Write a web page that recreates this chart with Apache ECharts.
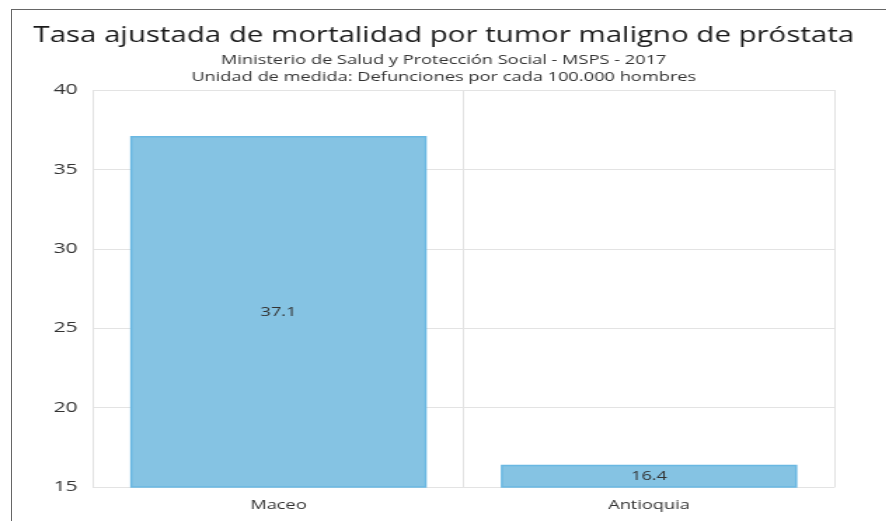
<!DOCTYPE html>
<html>
<head>
<meta charset="utf-8">
<script src="https://cdn.jsdelivr.net/npm/echarts@6/dist/echarts.min.js"></script>
<style>
  html, body { margin: 0; padding: 0; background: #fff; overflow: hidden; }
  #wrap { position: absolute; left: 0; top: 0; width: 886px; height: 521px; overflow: hidden; }
  #chart { position: absolute; left: 0; top: 0; height: 521px; transform-origin: 0 0; }
  #frame { position: absolute; left: 11px; top: 9px; width: 880px; height: 520px;
           border-top: 1px solid #666; border-left: 1px solid #666; pointer-events: none; }
</style>
</head>
<body>
<div id="wrap">
  <div id="chart"></div>
  <div id="frame"></div>
</div>
<script>
// ---- data ----
const categories = ['Maceo', 'Antioquia'];
const values = [37.1, 16.4];
const yTicks = [15, 20, 25, 30, 35, 40];
const titleText = 'Tasa ajustada de mortalidad por tumor maligno de próstata';
const subtitleText = 'Ministerio de Salud y Protección Social - MSPS - 2017\nUnidad de medida: Defunciones por cada 100.000 hombres';

// horizontal stretch of the reference picture
const SX = 1.4;
const W = 886 / SX;
const el = document.getElementById('chart');
el.style.width = W + 'px';
el.style.transform = 'scaleX(' + SX + ')';

const FONT = '"Open Sans", "Noto Sans", sans-serif';
const chart = echarts.init(el, null, { renderer: 'canvas', width: W, height: 521 });
chart.setOption({
  animation: false,
  backgroundColor: '#fff',
  title: {
    text: titleText,
    subtext: subtitleText,
    left: 'center',
    top: 21,
    itemGap: 5,
    textStyle: { fontFamily: FONT, fontSize: 21, fontWeight: 'normal', color: '#1a1a1a' },
    subtextStyle: { fontFamily: FONT, fontSize: 13, color: '#333', lineHeight: 17 }
  },
  grid: { left: 93 / SX, right: 53 / SX, top: 90, bottom: 34 },
  xAxis: {
    type: 'category',
    data: categories,
    axisLine: { show: true, lineStyle: { color: '#e3e3e3' } },
    axisTick: { show: false },
    splitLine: { show: true, lineStyle: { color: '#e3e3e3', width: 1 } },
    axisLabel: { fontFamily: FONT, fontSize: 13, color: '#333', margin: 12 }
  },
  yAxis: {
    type: 'value',
    min: yTicks[0],
    max: yTicks[yTicks.length - 1],
    interval: yTicks[1] - yTicks[0],
    axisLine: { show: false },
    axisTick: { show: false },
    splitLine: { show: true, lineStyle: { color: '#e3e3e3', width: 1 } },
    axisLabel: { fontFamily: FONT, fontSize: 15, color: '#333', margin: 11 }
  },
  series: [{
    type: 'bar',
    data: values,
    barWidth: '80%',
    itemStyle: { color: '#85c3e3', borderColor: '#6ab8e2', borderWidth: 1.5 },
    label: {
      show: true,
      position: 'inside',
      fontFamily: FONT,
      fontSize: 13,
      color: '#333'
    }
  }]
});
</script>
</body>
</html>
